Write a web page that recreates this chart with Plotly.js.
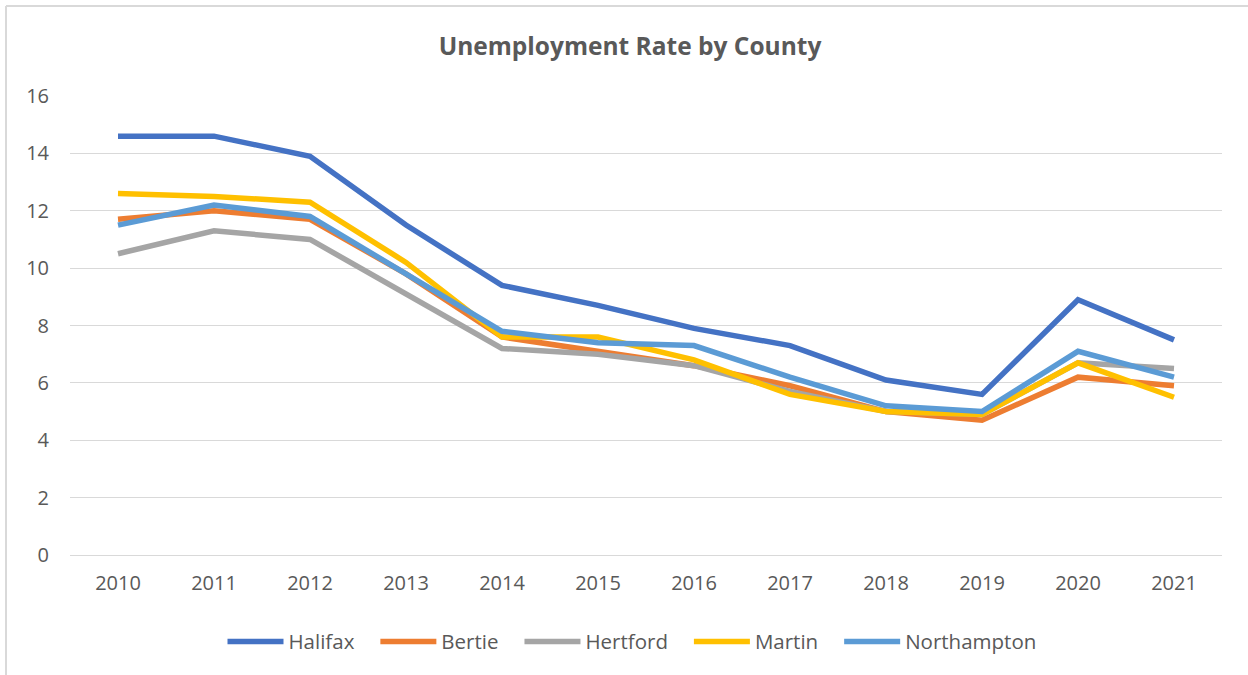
<!DOCTYPE html>
<html>
<head>
<meta charset="utf-8">
<script src="https://cdn.plot.ly/plotly-3.0.1.min.js"></script>
<style>html,body{margin:0;padding:0;background:#fff;}#chart{width:1248px;height:675px;}</style>
</head>
<body>
<div id="chart"></div>
<script>
const years = [2010, 2011, 2012, 2013, 2014, 2015, 2016, 2017, 2018, 2019, 2020, 2021];
const halifax = [14.6, 14.6, 13.9, 11.5, 9.4, 8.7, 7.9, 7.3, 6.1, 5.6, 8.9, 7.5];
const bertie = [11.7, 12.0, 11.7, 9.8, 7.6, 7.1, 6.6, 5.9, 5.0, 4.7, 6.2, 5.9];
const hertford = [10.5, 11.3, 11.0, 9.1, 7.2, 7.0, 6.6, 5.7, 5.0, 4.9, 6.7, 6.5];
const martin = [12.6, 12.5, 12.3, 10.2, 7.6, 7.6, 6.8, 5.6, 5.0, 4.9, 6.7, 5.5];
const northampton = [11.5, 12.2, 11.8, 9.8, 7.8, 7.4, 7.3, 6.2, 5.2, 5.0, 7.1, 6.2];
const seriesNames = ["Halifax", "Bertie", "Hertford", "Martin", "Northampton"];
const seriesColors = ["#4472C4", "#ED7D31", "#A5A5A5", "#FFC000", "#5B9BD5"];
const seriesValues = [halifax, bertie, hertford, martin, northampton];

const pad = "\u00A0\u00A0\u00A0";
const traces = seriesValues.map((vals, i) => ({
  x: years,
  y: vals,
  name: seriesNames[i] + (i < seriesNames.length - 1 ? pad : ""),
  type: "scatter",
  mode: "lines",
  line: {color: seriesColors[i], width: 5.5},
  hoverinfo: "x+y+name"
}));

const font = "'Open Sans', 'Liberation Sans', sans-serif";
const layout = {
  width: 1248,
  height: 675,
  paper_bgcolor: "#ffffff",
  plot_bgcolor: "#ffffff",
  margin: {l: 70, r: 26, t: 96, b: 120},
  title: {
    text: "<b>Unemployment Rate by County</b>",
    font: {family: font, size: 24.5, color: "#595959"},
    x: 630 / 1248, xanchor: "center", xref: "container",
    y: 1 - 46 / 675, yanchor: "middle", yref: "container"
  },
  xaxis: {
    type: "linear",
    range: [2009.5, 2021.5],
    tickmode: "array",
    tickvals: years,
    ticktext: years.map(String),
    showgrid: false,
    zeroline: false,
    showline: false,
    ticks: "",
    ticklabelstandoff: 14,
    tickfont: {family: font, size: 20, color: "#595959"}
  },
  yaxis: {
    range: [0, 16],
    dtick: 2,
    tick0: 0,
    showgrid: true,
    gridcolor: "#D9D9D9",
    gridwidth: 1.3,
    zeroline: true,
    zerolinecolor: "#D9D9D9",
    zerolinewidth: 1.3,
    showline: false,
    ticks: "",
    ticklabelstandoff: 20,
    tickfont: {family: font, size: 20, color: "#595959"}
  },
  showlegend: true,
  legend: {
    orientation: "h",
    x: (632 - 70) / 1152, xanchor: "center",
    y: -0.145, yanchor: "top",
    font: {family: font, size: 20.5, color: "#595959"},
    itemwidth: 56,
    tracegroupgap: 0,
    bgcolor: "rgba(0,0,0,0)"
  },
  shapes: [
    {type: "line", xref: "paper", yref: "paper",
     x0: -64/1152, x1: 1.05, y0: 1 + 90/459, y1: 1 + 90/459,
     line: {color: "#D9D9D9", width: 2}},
    {type: "line", xref: "paper", yref: "paper",
     x0: -64/1152, x1: -64/1152, y0: 1 + 90/459, y1: -0.3,
     line: {color: "#D9D9D9", width: 2}}
  ]
};

Plotly.newPlot("chart", traces, layout, {displayModeBar: false, responsive: false});
</script>
</body>
</html>
